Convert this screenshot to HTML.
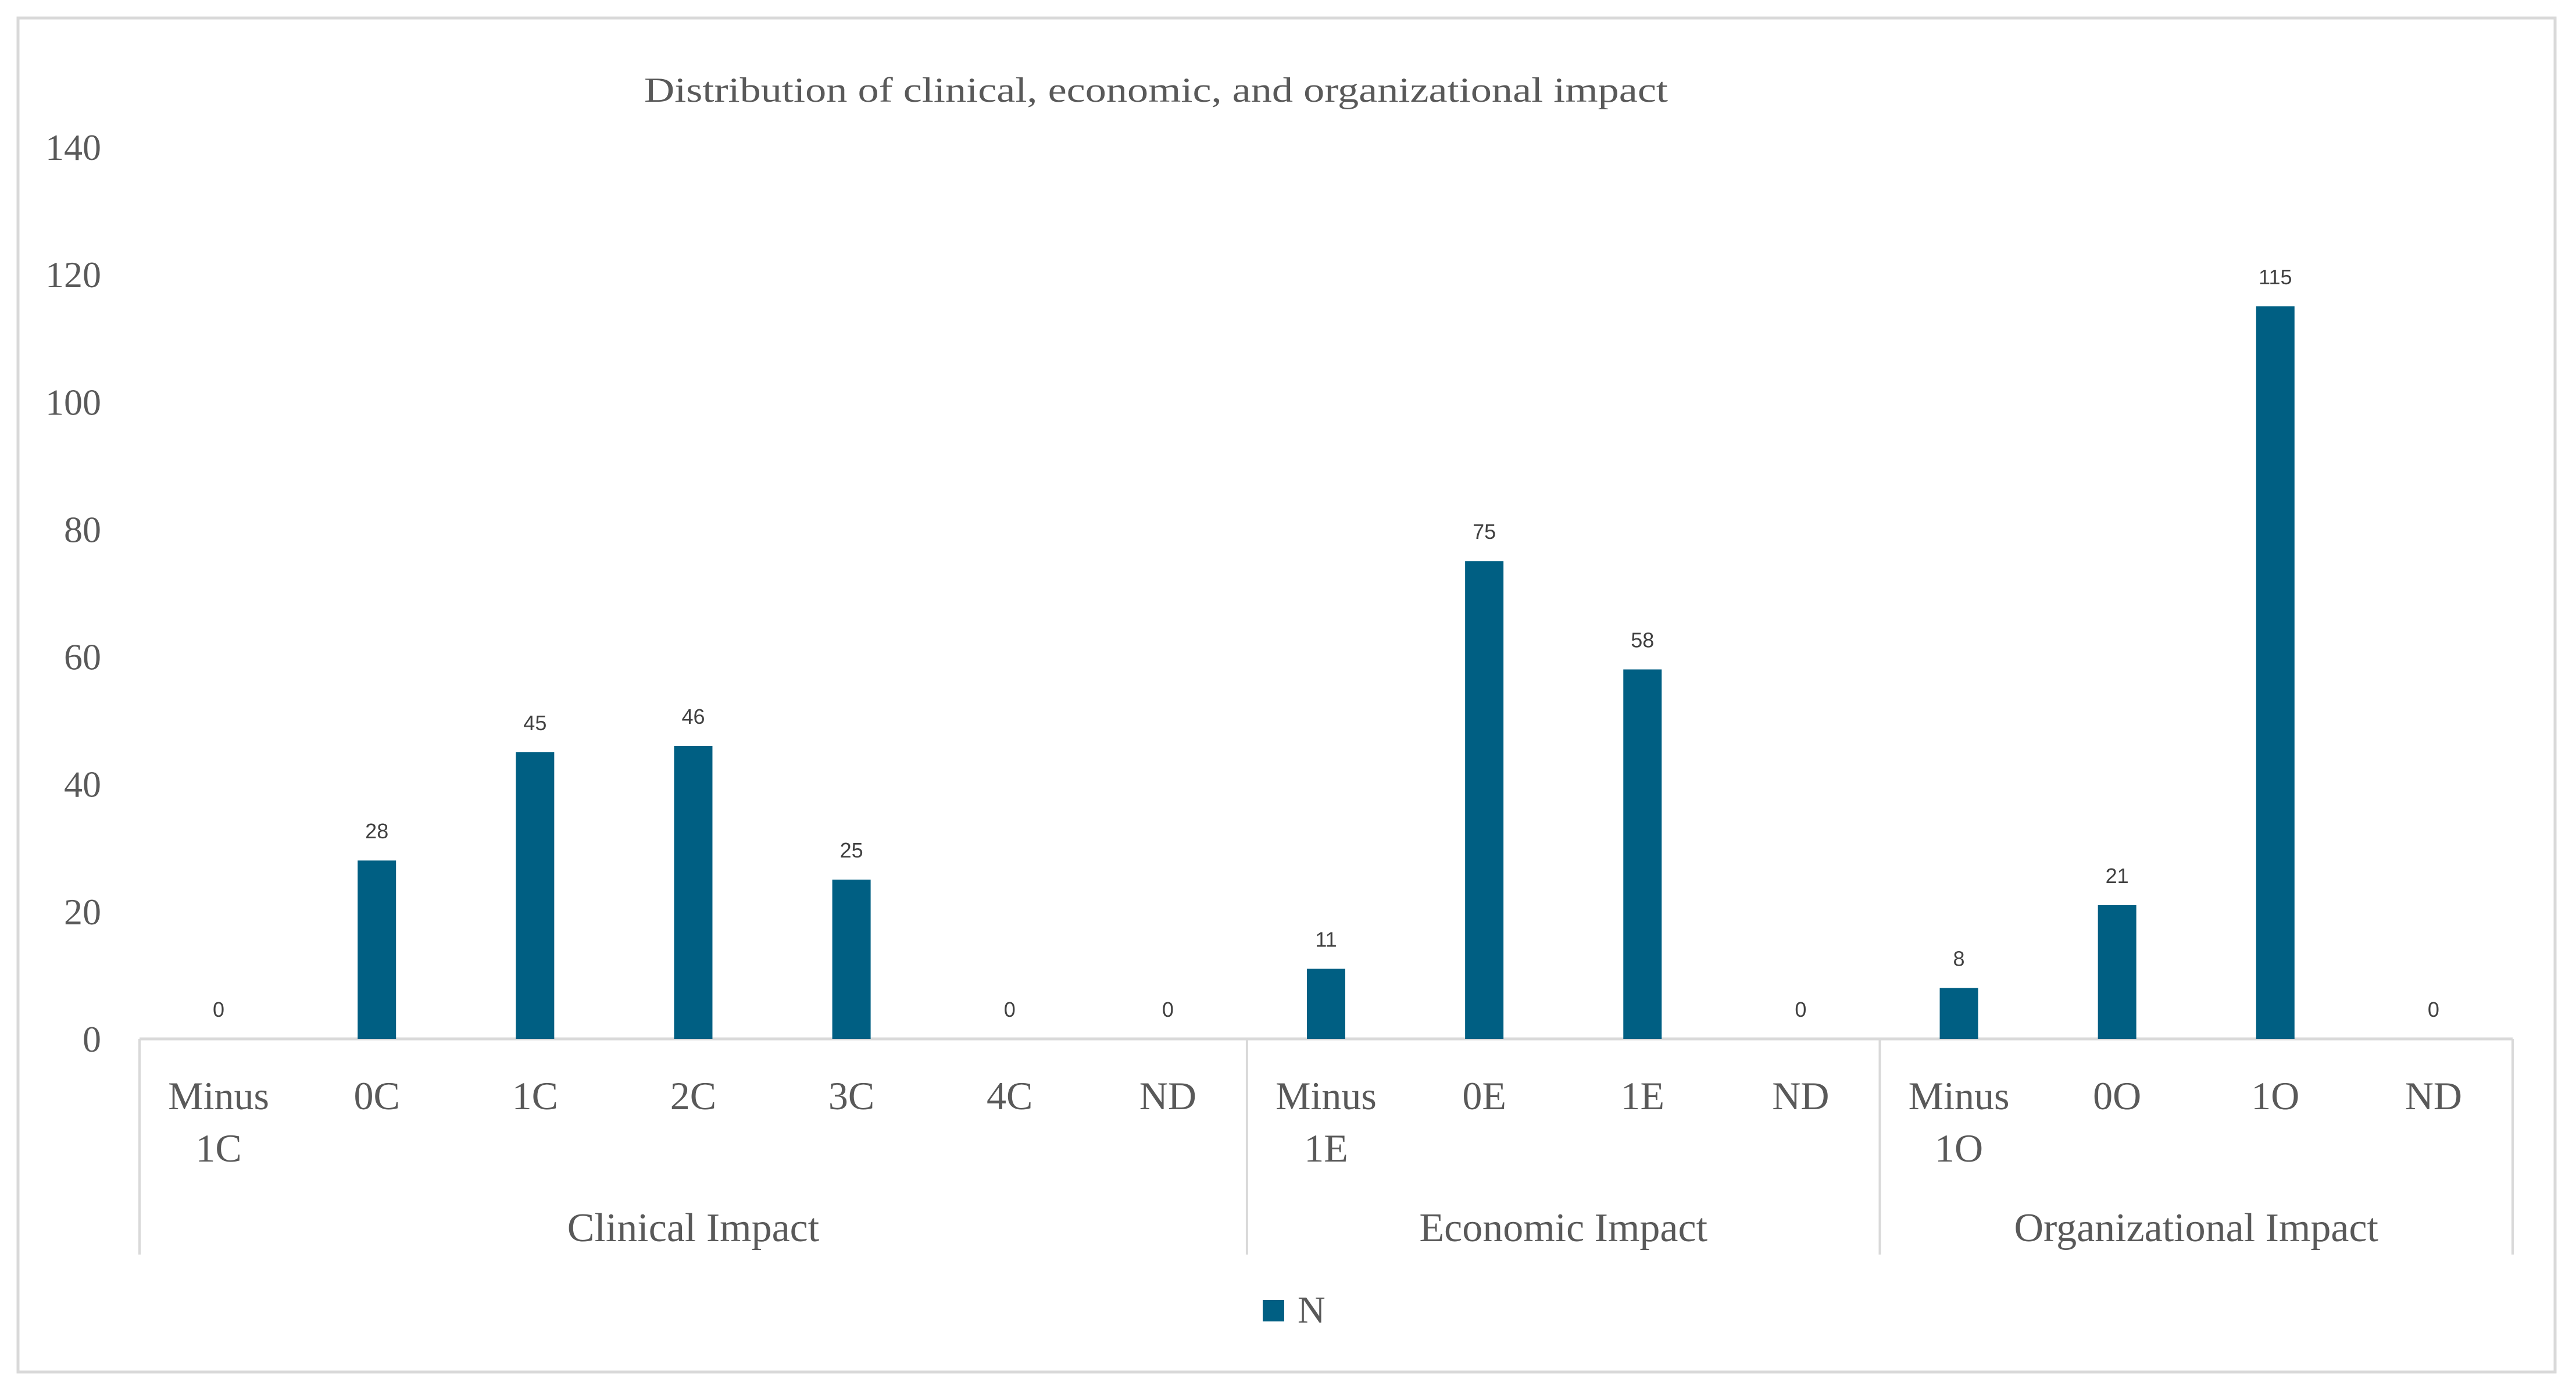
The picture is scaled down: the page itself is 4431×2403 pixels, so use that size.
<!DOCTYPE html>
<html><head><meta charset="utf-8"><style>
html,body{margin:0;padding:0;background:#fff;}
svg{display:block;}
</style></head><body>
<svg id="chart" width="4431" height="2403" viewBox="0 0 4431 2403" xmlns="http://www.w3.org/2000/svg">
<rect x="31" y="31" width="4364" height="2329" fill="#fff" stroke="#d9d9d9" stroke-width="5"/>
<text x="1108" y="175" font-family="Liberation Serif, serif" font-size="60" fill="#595959" textLength="1761" lengthAdjust="spacingAndGlyphs">Distribution of clinical, economic, and organizational impact</text>
<g id="plot"></g>
<g>
<rect x="2172" y="2236" width="37" height="37" fill="#005f83"/>
<text x="2232" y="2275" font-family="Liberation Serif, serif" font-size="66" fill="#595959">N</text>
</g>
</svg>
<script>
const categories = ["Minus 1C","0C","1C","2C","3C","4C","ND","Minus 1E","0E","1E","ND","Minus 1O","0O","1O","ND"];
const values = [0,28,45,46,25,0,0,11,75,58,0,8,21,115,0];
const groups = ["Clinical Impact","Economic Impact","Organizational Impact"];
const groupSizes = [7,4,4];
const yTicks = [0,20,40,60,80,100,120,140];

const NS="http://www.w3.org/2000/svg";
const g=document.getElementById('plot');
const x0=240, x1=4322, yBase=1787, yTop=253, yMax=140;
const band=(x1-x0)/categories.length;
const X=i=>x0+band*(i+0.5);
const Y=v=>yBase-(v/yMax)*(yBase-yTop);
function el(tag,attrs,txt){const e=document.createElementNS(NS,tag);for(const k in attrs)e.setAttribute(k,attrs[k]);if(txt!==undefined)e.textContent=txt;g.appendChild(e);return e;}

yTicks.forEach(t=>{
  const e=el('text',{x:174,y:Y(t)+22,'text-anchor':'end','font-family':'Liberation Serif, serif','font-size':64,fill:'#595959'},t);
  
  
});
const ax=el('line',{x1:x0,y1:yBase,x2:x1,y2:yBase,stroke:'#d9d9d9','stroke-width':5});



let start=0;
const bounds=[0];
groupSizes.forEach(s=>{start+=s;bounds.push(start);});
bounds.forEach(b=>{
  const xx=x0+band*b;
  const l=el('line',{x1:xx,y1:yBase,x2:xx,y2:2158,stroke:'#d9d9d9','stroke-width':4});
  
  
});
groups.forEach((gn,i)=>{
  const cx=x0+band*(bounds[i]+bounds[i+1])/2;
  const t=el('text',{x:cx,y:2135,'text-anchor':'middle','font-family':'Liberation Serif, serif','font-size':70,fill:'#595959'},gn);
  
  
});

categories.forEach((c,i)=>{
  const v=values[i];
  const bw=66;
  if(v>0){
    const r=el('rect',{x:X(i)-bw/2,y:Y(v),width:bw,height:yBase-Y(v),fill:'#005f83'});
    
    
  }
  const d=el('text',{x:X(i),y:Y(v)-38,'text-anchor':'middle','font-family':'Liberation Sans, sans-serif','font-size':36,fill:'#404040'},v);
  
  
  const parts=c.split(' ');
  parts.forEach((p,j)=>{
    const t=el('text',{x:X(i),y:1908+j*90,'text-anchor':'middle','font-family':'Liberation Serif, serif','font-size':68,fill:'#595959'},p);
    
    
  });
});
</script>
</body></html>
